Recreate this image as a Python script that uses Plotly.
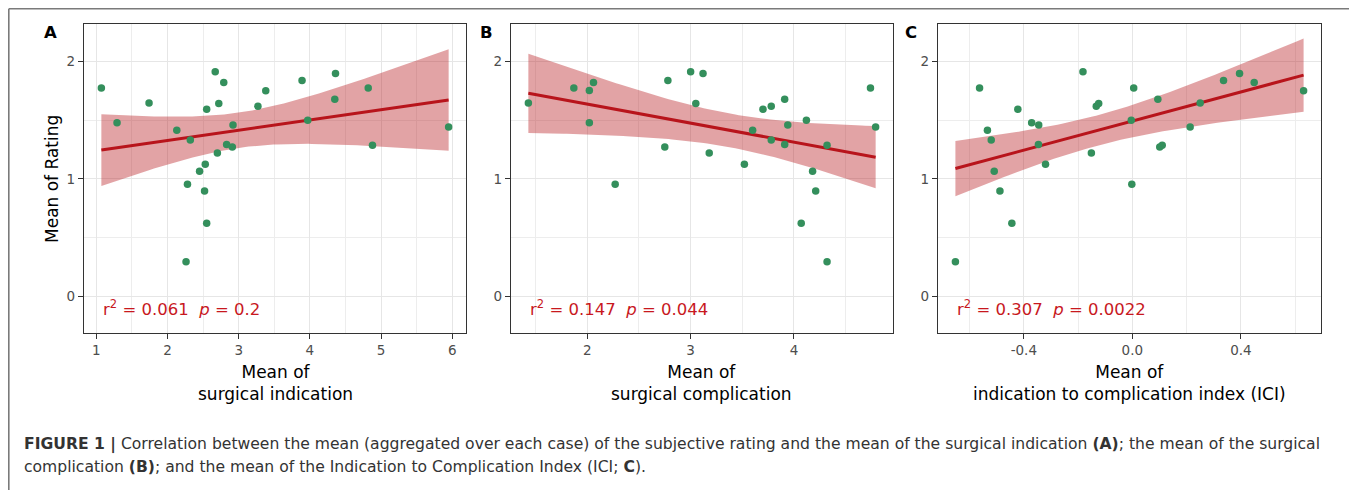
import numpy as np
import plotly.graph_objects as go

# ---------------- data ----------------
a_x = [1.07, 1.29, 1.74, 2.13, 2.32, 2.28, 2.26, 2.45, 2.53, 2.52, 2.55, 2.55, 2.67, 2.79,
       2.72, 2.70, 2.83, 2.91, 2.92, 3.27, 3.38, 3.89, 3.97, 4.36, 4.35, 4.82, 4.88, 5.95]
a_y = [1.775, 1.477, 1.647, 1.414, 1.331, 0.953, 0.293, 1.064, 1.124, 0.896, 0.620, 1.593, 1.912, 1.821,
       1.642, 1.220, 1.292, 1.272, 1.459, 1.619, 1.750, 1.838, 1.499, 1.898, 1.679, 1.775, 1.286, 1.442]

b_x = [1.43, 1.87, 2.02, 2.06, 2.02, 2.27, 2.75, 2.78, 3.00, 3.12, 3.05, 3.18, 3.52, 3.60,
       3.70, 3.78, 3.78, 3.91, 3.94, 3.91, 4.12, 4.18, 4.21, 4.07, 4.32, 4.32, 4.74, 4.79]
b_y = [1.647, 1.775, 1.752, 1.821, 1.477, 0.953, 1.272, 1.838, 1.912, 1.898, 1.642, 1.220, 1.124, 1.414,
       1.593, 1.619, 1.331, 1.679, 1.459, 1.292, 1.499, 1.064, 0.896, 0.620, 1.286, 0.293, 1.775, 1.442]

c_x = [-0.652, -0.563, -0.534, -0.520, -0.509, -0.488, -0.444, -0.422, -0.371, -0.345, -0.346, -0.320,
       -0.182, -0.151, -0.133, -0.124, -0.004, -0.002, 0.005, 0.094, 0.101, 0.110, 0.213, 0.250,
       0.336, 0.395, 0.449, 0.631]
c_y = [0.293, 1.775, 1.414, 1.331, 1.064, 0.896, 0.620, 1.593, 1.477, 1.459, 1.292, 1.124,
       1.912, 1.220, 1.619, 1.642, 1.499, 0.953, 1.775, 1.679, 1.272, 1.286, 1.442, 1.647,
       1.838, 1.898, 1.821, 1.750]

panel_labels = ["A", "B", "C"]
x_titles = ["Mean of<br>surgical indication",
            "Mean of<br>surgical complication",
            "Mean of<br>indication to complication index (ICI)"]
y_title = "Mean of Rating"
stats_text = ["r<sup>2</sup> = 0.061\u00a0\u00a0<i>p</i> = 0.2",
              "r<sup>2</sup> = 0.147\u00a0\u00a0<i>p</i> = 0.044",
              "r<sup>2</sup> = 0.307\u00a0\u00a0<i>p</i> = 0.0022"]

x_tickvals = [[1, 2, 3, 4, 5, 6], [2, 3, 4], [-0.4, 0.0, 0.4]]
x_ticktext = [["1", "2", "3", "4", "5", "6"], ["2", "3", "4"], ["-0.4", "0.0", "0.4"]]
x_minor = [0.5, 0.5, 0.2]
x_tick0 = [0, 0, 0]
y_tickvals = [0, 1, 2]
y_ticktext = ["0", "1", "2"]
y_range = [-0.315, 2.32]

caption_1 = ("<b>FIGURE 1 |</b> Correlation between the mean (aggregated over each case) of the subjective "
             "rating and the mean of the surgical indication <b>(A)</b>; the mean of the surgical")
caption_2 = ("complication <b>(B)</b>; and the mean of the Indication to Complication Index (ICI; <b>C</b>).")

T_CRIT = 2.0555  # t(0.975, df = 26)

# ---------------- layout helpers ----------------
# the page body has an 8px margin, so the figure starts 8px in from the window corner
OFF = 8
W, H = 1357 - OFF, 490 - OFF
FONT = "DejaVu Sans"


def px(xp):
    return (xp - OFF) / W


def py(yp):
    return 1 - (yp - OFF) / H


panels_px = [(84, 466), (511, 893), (938, 1321)]
plot_top, plot_bottom = 24, 333

POINT = "rgb(52,143,92)"
LINE = "#B8141B"
RIBBON = "rgba(185,35,40,0.42)"
STAT = "#C8181E"

fig = go.Figure()
datasets = [(a_x, a_y), (b_x, b_y), (c_x, c_y)]

annotations = []
for i, (xs, ys) in enumerate(datasets):
    k = "" if i == 0 else str(i + 1)
    xa, ya = "x" + k, "y" + k
    x = np.asarray(xs, float)
    y = np.asarray(ys, float)
    n = len(x)
    xm, ym = x.mean(), y.mean()
    sxx = ((x - xm) ** 2).sum()
    b1 = ((x - xm) * (y - ym)).sum() / sxx
    b0 = ym - b1 * xm
    s = np.sqrt(((y - (b0 + b1 * x)) ** 2).sum() / (n - 2))
    g = np.linspace(x.min(), x.max(), 100)
    fit = b0 + b1 * g
    se = s * np.sqrt(1 / n + (g - xm) ** 2 / sxx)
    up, lo = fit + T_CRIT * se, fit - T_CRIT * se

    fig.add_trace(go.Scatter(x=np.concatenate([g, g[::-1]]), y=np.concatenate([up, lo[::-1]]),
                             fill="toself", fillcolor=RIBBON, line=dict(width=0), mode="lines",
                             hoverinfo="skip", showlegend=False, xaxis=xa, yaxis=ya))
    fig.add_trace(go.Scatter(x=g, y=fit, mode="lines", line=dict(color=LINE, width=3),
                             showlegend=False, xaxis=xa, yaxis=ya))
    fig.add_trace(go.Scatter(x=x, y=y, mode="markers",
                             marker=dict(color=POINT, size=7.5, line=dict(width=0)),
                             showlegend=False, xaxis=xa, yaxis=ya))

    span = x.max() - x.min()
    l, r = panels_px[i]
    axis_common = dict(showline=True, mirror=True, linecolor="#333333", linewidth=1.3,
                       ticks="outside", ticklen=5, tickwidth=1, tickcolor="#333333",
                       tickfont=dict(family=FONT, size=13.5, color="#4D4D4D"),
                       showgrid=True, gridcolor="#E6E6E6", gridwidth=1.2, zeroline=False)
    fig.update_layout(**{
        ("xaxis" + k): dict(domain=[px(l), px(r)], anchor=ya,
                            range=[x.min() - 0.05 * span, x.max() + 0.05 * span],
                            tickmode="array", tickvals=x_tickvals[i], ticktext=x_ticktext[i],
                            minor=dict(dtick=x_minor[i], tick0=x_tick0[i], showgrid=True,
                                       gridcolor="#EDEDED", gridwidth=0.8),
                            **axis_common),
        ("yaxis" + k): dict(domain=[py(plot_bottom), py(plot_top)], anchor=xa, range=y_range,
                            tickmode="array", tickvals=y_tickvals, ticktext=y_ticktext,
                            minor=dict(dtick=0.5, tick0=0, showgrid=True,
                                       gridcolor="#EDEDED", gridwidth=0.8),
                            **axis_common),
    })

    # r^2 / p annotation
    annotations.append(dict(x=x.min(), y=-0.105, xref=xa, yref=ya, text=stats_text[i],
                            xanchor="left", yanchor="middle", showarrow=False,
                            font=dict(family=FONT, size=16.5, color=STAT)))
    # x title
    annotations.append(dict(x=px((l + r) / 2), y=py(383), xref="paper", yref="paper",
                            text=x_titles[i], xanchor="center", yanchor="middle", showarrow=False,
                            font=dict(family=FONT, size=17, color="black")))

# panel letters
for lab, xp in zip(panel_labels, [50, 486, 911]):
    annotations.append(dict(x=px(xp), y=py(32), xref="paper", yref="paper", text="<b>" + lab + "</b>",
                            xanchor="center", yanchor="middle", showarrow=False,
                            font=dict(family=FONT, size=16.5, color="black")))

# y title
annotations.append(dict(x=px(52), y=py(179), xref="paper", yref="paper", text=y_title, textangle=-90,
                        xanchor="center", yanchor="middle", showarrow=False,
                        font=dict(family=FONT, size=17, color="black")))

# caption
annotations.append(dict(x=px(22), y=py(444), xref="paper", yref="paper", text=caption_1,
                        xanchor="left", yanchor="middle", showarrow=False,
                        font=dict(family=FONT, size=15.6, color="#333333")))
annotations.append(dict(x=px(22), y=py(467), xref="paper", yref="paper", text=caption_2,
                        xanchor="left", yanchor="middle", showarrow=False,
                        font=dict(family=FONT, size=15.6, color="#333333")))

frame = dict(color="#7A7A7A", width=1.6)
shapes = [
    dict(type="line", xref="paper", yref="paper", x0=px(8.8), x1=px(8.8), y0=py(8.8), y1=0, line=frame),
    dict(type="line", xref="paper", yref="paper", x0=px(1350), x1=px(1350), y0=py(8.8), y1=0, line=frame),
    dict(type="line", xref="paper", yref="paper", x0=px(8.8), x1=px(1350), y0=py(8.8), y1=py(8.8),
         line=frame),
]

fig.update_layout(width=W, height=H, margin=dict(l=0, r=0, t=0, b=0, autoexpand=False),
                  paper_bgcolor="white", plot_bgcolor="white", showlegend=False,
                  annotations=annotations, shapes=shapes,
                  font=dict(family=FONT))

fig.write_html("out.html", config={"displayModeBar": False})
